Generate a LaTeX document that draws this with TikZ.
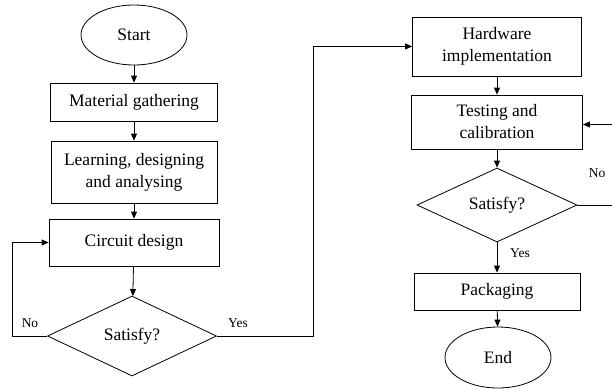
\documentclass[tikz,border=0pt]{standalone}
\usepackage{fontspec}
\setmainfont{Liberation Serif}
\usetikzlibrary{shapes.geometric,arrows.meta}

\begin{document}
\begin{tikzpicture}
  [x=1pt,y=-1pt,line width=0.8pt,>={Triangle[length=7pt,width=6pt]},
   every node/.style={font=\fontsize{17.5}{22}\selectfont,inner sep=0pt},
   proc/.style={draw,rectangle,align=center},
   term/.style={draw,ellipse},
   cond/.style={draw,diamond},
   lbl/.style={font=\fontsize{13.5}{16}\selectfont}]
  \useasboundingbox (0,0) rectangle (612,389);
  \clip (0,0) rectangle (612,389);

  \node[term,minimum width=106pt,minimum height=60pt] (start) at (134,35) {Start};
  \node[proc,minimum width=167pt,minimum height=38pt] (mat) at (134,102) {Material gathering};
  \node[proc,minimum width=166pt,minimum height=62pt] (learn) at (134,172) {Learning, designing\\and analysing};
  \node[proc,minimum width=170pt,minimum height=47pt] (circ) at (134,242.5) {Circuit design};
  \node[cond,minimum width=169pt,minimum height=80pt] (sat1) at (132,336) {Satisfy?};

  \node[proc,minimum width=169pt,minimum height=59pt] (hw) at (497,46.5) {Hardware\\implementation};
  \node[proc,minimum width=171pt,minimum height=54pt] (test) at (497,122) {Testing and\\calibration};
  \node[cond,minimum width=160pt,minimum height=74pt] (sat2) at (497,205) {Satisfy?};
  \node[proc,minimum width=166pt,minimum height=37pt] (pack) at (497,291.5) {Packaging};
  \node[term,minimum width=106pt,minimum height=61pt] (end) at (498,357.5) {End};

  \coordinate (noL) at (12,336);
  \coordinate (yesR) at (313,336);
  \coordinate (noR) at (630,205);

  \foreach \from/\to in {start/mat,mat/learn,learn/circ,circ/sat1,hw/test,test/sat2,sat2/pack,pack/end}
    \draw[->] (\from) -- (\to);

  \draw[->] (sat1.west) -- (noL) |- (circ.west);
  \draw[->] (sat1.east) -- (yesR) |- (hw.west);
  \draw[->] (sat2.east) -- (noR) |- ([yshift=-2.5pt]test.east);

  \node[lbl] (no1) at (30,323) {No};
  \node[lbl] (yes1) at (238,323) {Yes};
  \node[lbl] (no2) at (597,173) {No};
  \node[lbl] (yes2) at (520,253) {Yes};
\end{tikzpicture}
\end{document}
